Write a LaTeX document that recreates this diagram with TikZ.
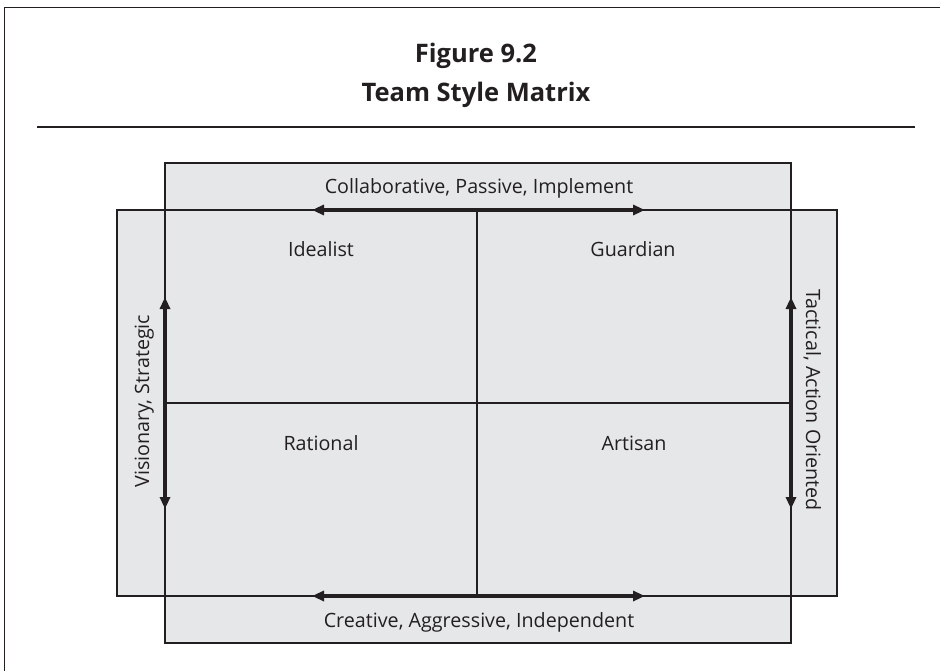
\documentclass[tikz,border=0pt]{standalone}
\usepackage{fontspec}
\setmainfont{Open Sans}
\usetikzlibrary{arrows.meta}
\definecolor{panel}{HTML}{E6E7E9}
\definecolor{ink}{HTML}{231F20}
\begin{document}
\begin{tikzpicture}[x=1pt,y=-1pt,
  edge/.style={draw=ink,line width=1.5pt},
  axisarrow/.style={draw=ink,line width=3.2pt,{Triangle[length=12pt,width=10pt]}-{Triangle[length=12pt,width=10pt]}},
  lbl/.style={font=\fontsize{19.7}{23}\selectfont,text=ink,inner sep=0pt},
  ttl/.style={font=\bfseries\fontsize{25.5}{30}\selectfont,text=ink,inner sep=0pt}]
\useasboundingbox (0,0) rectangle (940,671);
% frame and title
\coordinate (frameBL) at (4.5,671);
\coordinate (frameTL) at (4.5,7.5);
\coordinate (frameTR) at (940,7.5);
\draw[draw=ink,line width=1.8pt] (frameBL) -- (frameTL) -- (frameTR);
\node[ttl,anchor=base] (fig) at (476,63) {Figure 9.2};
\node[ttl,anchor=base] (title) at (476,102) {Team Style Matrix};
\coordinate (ruleL) at (37,127);
\coordinate (ruleR) at (915,127);
\draw[draw=ink,line width=1.4pt] (ruleL) -- (ruleR);
% panels
\coordinate (tallTL) at (165,163);
\coordinate (tallBR) at (791,643);
\coordinate (wideTL) at (117,210);
\coordinate (wideBR) at (837,596);
\fill[panel] (tallTL) rectangle (tallBR);
\fill[panel] (wideTL) rectangle (wideBR);
\draw[edge] (tallTL) rectangle (tallBR);
\draw[edge] (wideTL) rectangle (wideBR);
% dividers
\coordinate (midT) at (477,210);
\coordinate (midB) at (477,596);
\coordinate (midL) at (165,403);
\coordinate (midR) at (791,403);
\draw[edge] (midT) -- (midB);
\draw[edge] (midL) -- (midR);
% axis arrows
\coordinate (topA) at (312,210); \coordinate (topB) at (645,210);
\coordinate (botA) at (312,596); \coordinate (botB) at (645,596);
\coordinate (lefA) at (165,297); \coordinate (lefB) at (165,509);
\coordinate (rigA) at (791,297); \coordinate (rigB) at (791,509);
\draw[axisarrow] (topA) -- (topB);
\draw[axisarrow] (botA) -- (botB);
\draw[axisarrow] (lefA) -- (lefB);
\draw[axisarrow] (rigA) -- (rigB);
% labels
\node[lbl,anchor=base] (collab) at (479,194) {Collaborative, Passive, Implement};
\node[lbl,anchor=base] (creative) at (479,627) {Creative, Aggressive, Independent};
\node[lbl,anchor=base,rotate=90] (vision) at (149,401) {Visionary, Strategic};
\node[lbl,anchor=base,rotate=-90] (tactic) at (806,400) {Tactical, Action Oriented};
\node[lbl,anchor=base] (idealist) at (321,257) {Idealist};
\node[lbl,anchor=base] (guardian) at (633,257) {Guardian};
\node[lbl,anchor=base] (rational) at (321,450) {Rational};
\node[lbl,anchor=base] (artisan) at (634,450) {Artisan};
\end{tikzpicture}
\end{document}
